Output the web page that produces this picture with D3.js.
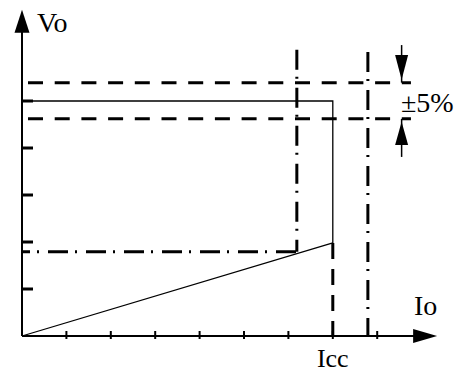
<!DOCTYPE html>
<html>
<head>
<meta charset="utf-8">
<script src="https://cdn.jsdelivr.net/npm/d3@7"></script>
<style>
  body { margin: 0; background: #fff; }
  svg { display: block; }
  text { font-family: 'Liberation Serif', serif; fill: #000; }
</style>
</head>
<body>
<svg width="473" height="374"></svg>
<script>
// axis ticks (current in steps, voltage in steps)
const xTicks = [1, 2, 3, 4, 5, 6, 7, 8];
const yTicks = [1, 2, 3, 4, 5];
const xMax = 9.35;
const yMax = 6.94;

// output characteristic: constant voltage then drop to short-circuit point
const vNominal = 5;
const vUpper = 5.39;
const vLower = 4.62;
const iShort = 7; // Icc
const vShort = 1.98;
const curve = [[0, vNominal], [iShort, vNominal], [iShort, vShort]];
const foldback = [[0, 0], [iShort, vShort]];

// dash-dot limits
const vLimit = 1.79;
const iLimit = 6.19;
const iMax = 7.79;
const limitTop = 6.09;

// tolerance band ends and arrows
const bandEnd = 8.76;
const arrowI = 8.55;
const arrowTop = 6.19;
const arrowBottom = 3.81;

const svg = d3.select('svg');
const x = d3.scaleLinear().domain([0, 9]).range([22, 22 + 9 * 44.4]);
const y = d3.scaleLinear().domain([0, 5]).range([336, 101]);
const line = d3.line().x(d => x(d[0])).y(d => y(d[1]));
const g = svg.append('g');

// Tolerance dashed lines
[vUpper, vLower].forEach(v => {
  g.append('path')
    .attr('d', line([[0, v], [bandEnd, v]]))
    .attr('fill', 'none')
    .attr('stroke', '#000')
    .attr('stroke-width', 3)
    .attr('stroke-dasharray', '15,11.7')
    .attr('stroke-dashoffset', -6);
});

// Vertical dashed line at Icc
g.append('path')
  .attr('d', line([[iShort, vShort], [iShort, 0]]))
  .attr('stroke', '#000')
  .attr('stroke-width', 3)
  .attr('stroke-dasharray', '16,10');

// Dash-dot limit lines
const dashDot = '20,7,2,9';
g.append('path')
  .attr('d', line([[0, vLimit], [iLimit, vLimit]]))
  .attr('stroke', '#000')
  .attr('stroke-width', 3)
  .attr('stroke-dasharray', dashDot)
  .attr('stroke-dashoffset', -26);
g.append('path')
  .attr('d', line([[iLimit, limitTop], [iLimit, vLimit]]))
  .attr('stroke', '#000')
  .attr('stroke-width', 3)
  .attr('stroke-dasharray', dashDot);
g.append('path')
  .attr('d', line([[iMax, limitTop - 0.05], [iMax, 0]]))
  .attr('stroke', '#000')
  .attr('stroke-width', 3)
  .attr('stroke-dasharray', dashDot);

// Characteristic curve
g.append('path')
  .attr('d', line(curve))
  .attr('fill', 'none')
  .attr('stroke', '#000')
  .attr('stroke-width', 1.3);
g.append('path')
  .attr('d', line(foldback))
  .attr('fill', 'none')
  .attr('stroke', '#000')
  .attr('stroke-width', 1.3);

// Axes
g.append('path')
  .attr('d', line([[0, 0], [xMax - 0.4, 0]]))
  .attr('stroke', '#000')
  .attr('stroke-width', 2);
g.append('path')
  .attr('d', line([[0, 0], [0, yMax - 0.4]]))
  .attr('stroke', '#000')
  .attr('stroke-width', 2);

// Axis arrowheads
const ax = x(xMax), ay = y(0);
g.append('path')
  .attr('d', `M${ax},${ay} L${ax - 24},${ay - 7} L${ax - 24},${ay + 7} Z`);
const bx = x(0), by = y(yMax);
g.append('path')
  .attr('d', `M${bx},${by} L${bx - 7.5},${by + 23} L${bx + 7.5},${by + 23} Z`);

// Ticks
g.selectAll('.xtick')
  .data(xTicks)
  .enter()
  .append('line')
  .attr('x1', d => x(d))
  .attr('x2', d => x(d))
  .attr('y1', y(0) - 5)
  .attr('y2', y(0) + 3)
  .attr('stroke', '#000')
  .attr('stroke-width', 2);
g.selectAll('.ytick')
  .data(yTicks)
  .enter()
  .append('line')
  .attr('x1', x(0))
  .attr('x2', x(0) + 11)
  .attr('y1', d => y(d))
  .attr('y2', d => y(d))
  .attr('stroke', '#000')
  .attr('stroke-width', 3);

// Tolerance arrows
const tx = x(arrowI);
g.append('line')
  .attr('x1', tx).attr('x2', tx)
  .attr('y1', y(arrowTop)).attr('y2', y(vUpper))
  .attr('stroke', '#000').attr('stroke-width', 1.5);
g.append('path')
  .attr('d', `M${tx - 6.5},${y(arrowTop) + 10} L${tx + 6.5},${y(arrowTop) + 10} L${tx},${y(vUpper) - 3} Z`);
g.append('line')
  .attr('x1', tx).attr('x2', tx)
  .attr('y1', y(vLower)).attr('y2', y(arrowBottom))
  .attr('stroke', '#000').attr('stroke-width', 1.5);
g.append('path')
  .attr('d', `M${tx},${y(vLower) + 3} L${tx - 6.5},${y(arrowBottom) - 12} L${tx + 6.5},${y(arrowBottom) - 12} Z`);

// Labels
svg.append('text')
  .attr('x', 37).attr('y', 32)
  .style('font-size', '28px')
  .text('Vo');
svg.append('text')
  .attr('x', 414).attr('y', 315)
  .style('font-size', '28px')
  .text('Io');
svg.append('text')
  .attr('x', x(iShort)).attr('y', 367)
  .attr('text-anchor', 'middle')
  .style('font-size', '26px')
  .text('Icc');
svg.append('text')
  .attr('x', 401).attr('y', 112)
  .style('font-size', '28px')
  .text('±5%');
</script>
</body>
</html>
